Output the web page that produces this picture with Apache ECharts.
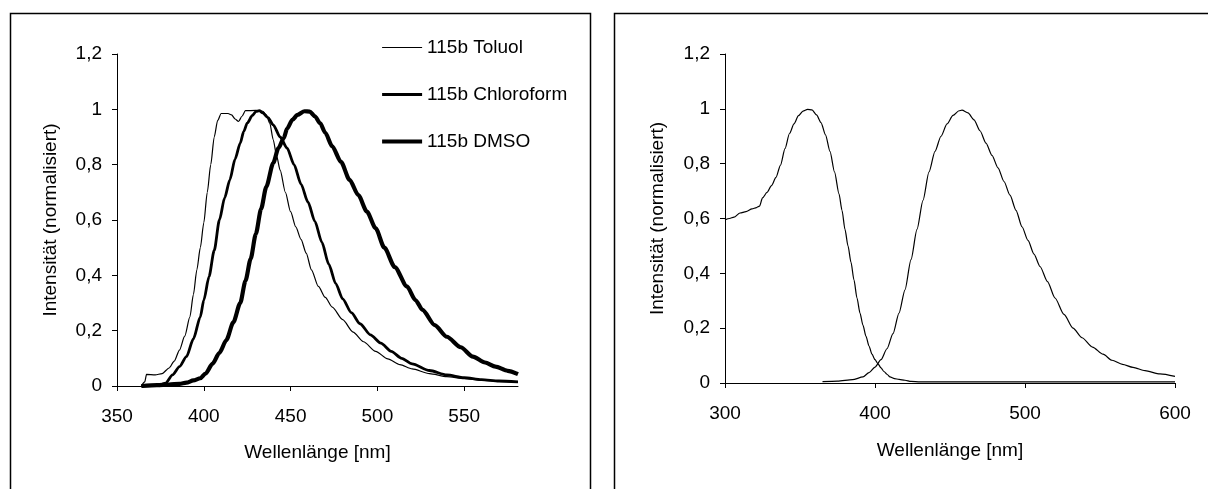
<!DOCTYPE html>
<html>
<head>
<meta charset="utf-8">
<script src="https://cdn.jsdelivr.net/npm/echarts@6/dist/echarts.min.js"></script>
<style>
  html, body { margin: 0; padding: 0; background: #fff; }
  #chart { width: 1208px; height: 489px; }
</style>
</head>
<body>
<div id="chart"></div>
<script>
// Emission spectra of 115b in three solvents (left panel)
const toluolNm = [364, 366, 367, 372, 376, 380, 383, 386, 389, 392, 394, 396, 398, 400, 402, 404, 406, 408, 410, 414, 416, 418, 420, 422, 424, 430, 434, 436, 438, 440, 442, 444, 447, 450, 453, 456, 459, 462, 466, 470, 474, 480, 486, 492, 499, 506, 513, 520, 530, 540, 550, 560, 570, 581];
const toluolInt = [0.0, 0.015, 0.042, 0.04, 0.045, 0.065, 0.09, 0.13, 0.18, 0.25, 0.33, 0.42, 0.50, 0.59, 0.70, 0.80, 0.90, 0.96, 0.985, 0.985, 0.98, 0.965, 0.956, 0.975, 0.995, 0.996, 0.993, 0.98, 0.95, 0.89, 0.83, 0.78, 0.70, 0.63, 0.575, 0.53, 0.48, 0.42, 0.36, 0.32, 0.285, 0.24, 0.195, 0.16, 0.125, 0.098, 0.077, 0.062, 0.045, 0.034, 0.027, 0.021, 0.017, 0.013];

const chloroNm = [374, 378, 382, 386, 390, 394, 398, 400, 403, 406, 409, 412, 415, 418, 421, 423, 425, 428, 430, 432, 434, 437, 440, 444, 448, 452, 456, 460, 464, 468, 472, 476, 480, 485, 490, 496, 502, 508, 514, 520, 530, 540, 550, 560, 570, 581];
const chloroInt = [0.0, 0.01, 0.04, 0.07, 0.106, 0.17, 0.25, 0.31, 0.395, 0.49, 0.60, 0.68, 0.745, 0.82, 0.878, 0.92, 0.95, 0.978, 0.992, 0.995, 0.987, 0.97, 0.944, 0.90, 0.86, 0.80, 0.73, 0.665, 0.595, 0.52, 0.44, 0.37, 0.315, 0.265, 0.225, 0.185, 0.155, 0.125, 0.10, 0.08, 0.056, 0.04, 0.03, 0.023, 0.018, 0.015];

const dmsoNm = [364, 373, 380, 386, 390, 394, 398, 401, 405, 409, 413, 417, 421, 424, 427, 430, 433, 436, 440, 443, 446, 448, 451, 454, 458, 461, 464, 467, 470, 474, 479, 484, 489, 494, 499, 504, 510, 517, 522, 526, 533, 540, 548, 555, 562, 568, 575, 581];
const dmsoInt = [0.0, 0.003, 0.005, 0.008, 0.012, 0.02, 0.028, 0.045, 0.08, 0.12, 0.166, 0.23, 0.30, 0.38, 0.46, 0.55, 0.64, 0.72, 0.806, 0.86, 0.895, 0.93, 0.962, 0.98, 0.993, 0.992, 0.975, 0.95, 0.915, 0.866, 0.81, 0.745, 0.69, 0.63, 0.57, 0.50, 0.43, 0.36, 0.31, 0.275, 0.22, 0.178, 0.14, 0.106, 0.085, 0.07, 0.055, 0.043];

// Absorption and emission spectrum (right panel)
const absNm = [300, 303, 306, 310, 314, 318, 321, 323, 325, 328, 331, 334, 337, 340, 343, 346, 349, 352, 355, 358, 361, 364, 367, 370, 373, 376, 378, 380, 382, 384, 386, 388, 390, 392, 394, 396, 398, 400, 402, 404, 406, 408, 410, 413, 416, 420, 424, 430, 450, 500, 550, 600];
const absInt = [0.595, 0.60, 0.605, 0.62, 0.625, 0.635, 0.64, 0.645, 0.675, 0.695, 0.72, 0.75, 0.795, 0.855, 0.91, 0.945, 0.975, 0.992, 0.998, 0.996, 0.978, 0.95, 0.905, 0.845, 0.77, 0.69, 0.63, 0.56, 0.50, 0.44, 0.375, 0.31, 0.255, 0.21, 0.17, 0.135, 0.105, 0.085, 0.07, 0.055, 0.042, 0.032, 0.022, 0.016, 0.013, 0.01, 0.006, 0.004, 0.004, 0.004, 0.004, 0.004];

const emNm = [365, 375, 385, 392, 396, 400, 404, 408, 412, 416, 420, 424, 428, 432, 436, 440, 444, 448, 452, 456, 458, 462, 466, 470, 474, 478, 482, 486, 490, 494, 498, 502, 506, 510, 515, 520, 526, 532, 538, 545, 552, 558, 565, 572, 580, 590, 600];
const emInt = [0.005, 0.007, 0.012, 0.022, 0.038, 0.058, 0.085, 0.125, 0.18, 0.255, 0.34, 0.45, 0.56, 0.666, 0.77, 0.845, 0.90, 0.945, 0.976, 0.993, 0.995, 0.985, 0.96, 0.92, 0.875, 0.83, 0.785, 0.735, 0.685, 0.63, 0.57, 0.52, 0.47, 0.425, 0.37, 0.31, 0.25, 0.20, 0.165, 0.131, 0.105, 0.083, 0.068, 0.057, 0.045, 0.033, 0.024];

const leftTicks = [350, 400, 450, 500, 550];
const rightTicks = [300, 400, 500, 600];

const seriesNames = ['115b Toluol', '115b Chloroform', '115b DMSO'];
const seriesWidths = [1.2, 2.8, 4.2];
const xTitle = 'Wellenlänge [nm]';
const yTitle = 'Intensität (normalisiert)';

const FONT = "'Liberation Sans', Arial, sans-serif";
const zip = (xs, ys) => xs.map((x, i) => [x, ys[i]]);
const decimalComma = v => String(+v.toFixed(1)).replace('.', ',');

function xAxisFor(gridIndex, min, max, interval, ticks, nameGap) {
  return {
    type: 'value', gridIndex, min, max, interval,
    name: xTitle, nameLocation: 'middle', nameGap,
    nameTextStyle: { fontFamily: FONT, fontSize: 19, color: '#000' },
    axisLine: { lineStyle: { color: '#000', width: 1 } },
    axisTick: { length: 5, lineStyle: { color: '#000' }, customValues: ticks },
    axisLabel: { fontFamily: FONT, fontSize: 19, color: '#000', margin: 21, customValues: ticks },
    splitLine: { show: false }
  };
}
function yAxisFor(gridIndex, nameGap) {
  return {
    type: 'value', gridIndex, min: 0, max: 1.2, interval: 0.2,
    name: yTitle, nameLocation: 'middle', nameGap, nameRotate: 90,
    nameTextStyle: { fontFamily: FONT, fontSize: 19, color: '#000' },
    axisLine: { show: true, lineStyle: { color: '#000', width: 1 } },
    axisTick: { show: true, length: 5, lineStyle: { color: '#000' } },
    axisLabel: { fontFamily: FONT, fontSize: 19, color: '#000', margin: 15, formatter: decimalComma },
    splitLine: { show: false }
  };
}
function lineSeries(name, data, width, axisIndex) {
  return {
    type: 'line', name, data, xAxisIndex: axisIndex, yAxisIndex: axisIndex,
    symbol: 'none', smooth: 0.25, smoothMonotone: 'x', animation: false,
    itemStyle: { color: '#000' },
    lineStyle: { color: '#000', width }
  };
}

const chart = echarts.init(document.getElementById('chart'), null, { renderer: 'canvas' });
chart.setOption({
  backgroundColor: '#fff',
  animation: false,
  graphic: [
    { type: 'rect', shape: { x: 10.5, y: 13.5, width: 580, height: 600 }, style: { fill: 'none', stroke: '#000', lineWidth: 1.5 }, silent: true },
    { type: 'rect', shape: { x: 614.5, y: 13.5, width: 700, height: 600 }, style: { fill: 'none', stroke: '#000', lineWidth: 1.5 }, silent: true }
  ],
  grid: [
    { left: 117, right: 690, top: 54, bottom: 103 },
    { left: 725, right: 33, top: 54, bottom: 106 }
  ],
  legend: {
    data: seriesNames.map((name, i) => ({ name, lineStyle: { width: seriesWidths[i], color: '#000' } })),
    orient: 'vertical', left: 380, top: 38, padding: 0,
    itemWidth: 40, itemHeight: 20, itemGap: 28,
    itemStyle: { color: 'transparent', borderWidth: 0, opacity: 0 },
    lineStyle: { width: 'inherit' },
    textStyle: { fontFamily: FONT, fontSize: 19, color: '#000' }
  },
  xAxis: [
    xAxisFor(0, 350, 581, 50, leftTicks, 57),
    xAxisFor(1, 300, 600, 100, rightTicks, 58)
  ],
  yAxis: [
    yAxisFor(0, 57),
    yAxisFor(1, 58)
  ],
  series: seriesNames.map((name, i) =>
    lineSeries(name, zip([toluolNm, chloroNm, dmsoNm][i], [toluolInt, chloroInt, dmsoInt][i]), seriesWidths[i], 0)
  ).concat([
    lineSeries('Absorption', zip(absNm, absInt), 1.2, 1),
    lineSeries('Emission', zip(emNm, emInt), 1.2, 1)
  ])
});
</script>
</body>
</html>
